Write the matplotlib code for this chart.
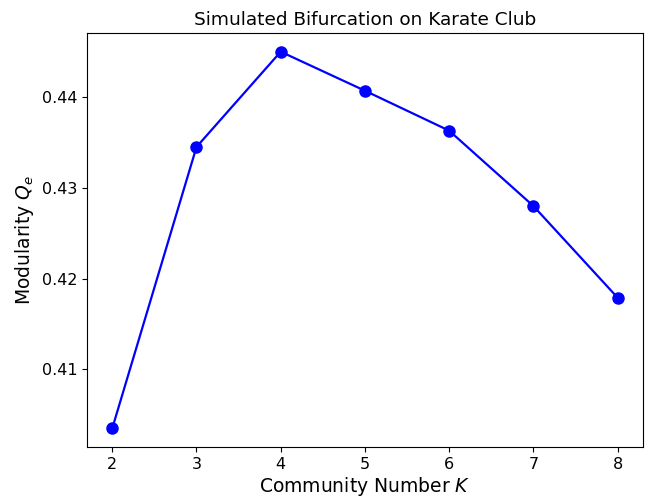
import matplotlib
matplotlib.use('Agg')
import matplotlib.pyplot as plt

# community number K vs modularity
K = [2, 3, 4, 5, 6, 7, 8]
Q = [0.4035, 0.4345, 0.4450, 0.4407, 0.4363, 0.4280, 0.4179]

fig, ax = plt.subplots(figsize=(6.54, 4.98), dpi=100)
fig.subplots_adjust(left=0.133, right=0.983, top=0.934, bottom=0.102)

ax.plot(K, Q, color='blue', marker='o', markersize=8, linewidth=1.6)

ax.set_title('Simulated Bifurcation on Karate Club', fontsize=13.3)
ax.set_xlabel('Community Number $K$', fontsize=13.5, labelpad=2)
ax.set_ylabel('Modularity $Q_e$', fontsize=13.5)
ax.set_yticks([0.41, 0.42, 0.43, 0.44])
ax.tick_params(labelsize=11.5)

plt.savefig('out.png', dpi=100)
